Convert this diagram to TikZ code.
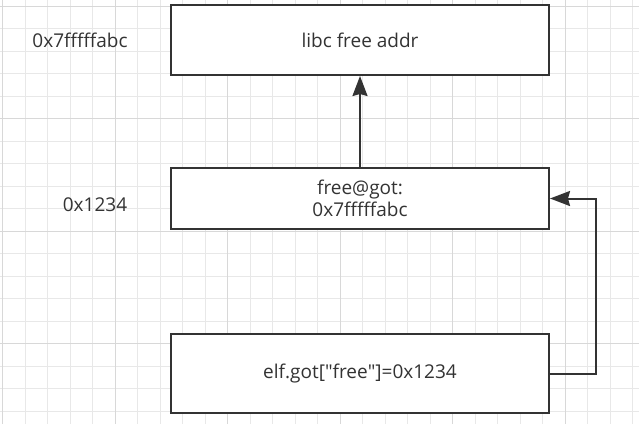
\documentclass[tikz,border=0pt]{standalone}
\usepackage{fontspec}
\setmainfont{Open Sans}
\usepackage{tikz}
\usetikzlibrary{positioning, arrows.meta}
\definecolor{boxgray}{HTML}{333333}
\definecolor{gridminor}{HTML}{E8E8E8}
\definecolor{gridmajor}{HTML}{D8D8D8}

\begin{document}
\begin{tikzpicture}[x=1pt,y=-1pt,node distance=160pt,on grid,
        box/.style={draw=boxgray,line width=2pt,minimum width=378pt,align=center,
                    text=boxgray,font=\fontsize{19}{22}\selectfont},
        addr/.style={text=boxgray,font=\fontsize{19}{22}\selectfont},
        link/.style={draw=boxgray,line width=2pt,
                     -{Stealth[length=20pt 0,width=15pt 0,inset=2pt 0,fill=boxgray]}}]
        \useasboundingbox (0,0) rectangle (639,424);
        % background grid
        \foreach \i in {0,...,28} \draw[gridminor,line width=1pt] (2.5+22.5*\i,0) -- ++(0,424);
        \foreach \j in {0,...,18} \draw[gridminor,line width=1pt] (0,6+22.5*\j) -- ++(639,0);
        \foreach \i in {0,...,5} \draw[gridmajor,line width=1pt] (2.5+112.5*\i,0) -- ++(0,424);
        \foreach \j in {0,...,3} \draw[gridmajor,line width=1pt] (0,6+112.5*\j) -- ++(639,0);

        \node[box,fill=white,minimum height=70pt] (libc) at (360,40) {libc free addr};
        \node[box,fill=white,minimum height=61pt] (got) [below=158.5pt of libc] {free@got:\\0x7fffffabc};
        \node[box,fill=white,minimum height=79pt] (elf) [below=175pt of got]
            {elf.got[\textquotedbl free\textquotedbl]=0x1234};
        \node[addr] (libc_addr) [left=280pt of libc] {0x7fffffabc};
        \node[addr] (got_addr) at (95,205) {0x1234};

        \path[link] (got) edge (libc);
        \draw[link] (elf.east) -- ++(46,0) |- (got.east);
      \end{tikzpicture}
\end{document}
